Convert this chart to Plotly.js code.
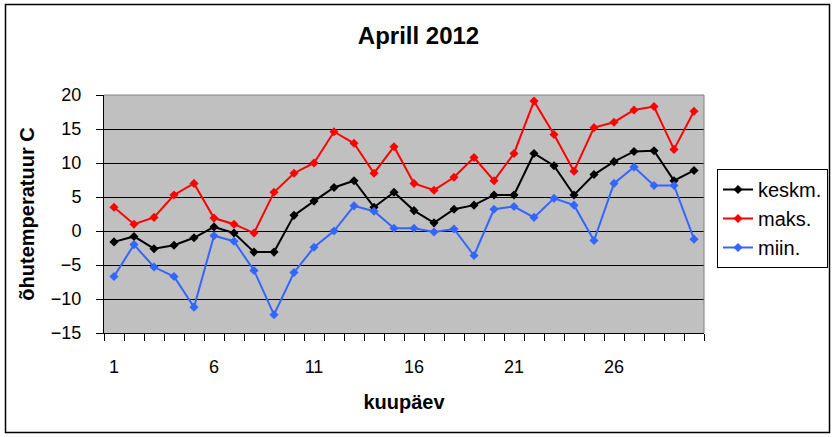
<!DOCTYPE html>
<html>
<head>
<meta charset="utf-8">
<script src="https://cdn.plot.ly/plotly-3.0.1.min.js"></script>
<style>
  html, body { margin: 0; padding: 0; background: #fff; }
  #chart { width: 835px; height: 437px; }
</style>
</head>
<body>
<div id="chart"></div>
<script>
// Days of April 2012
const days = [1,2,3,4,5,6,7,8,9,10,11,12,13,14,15,16,17,18,19,20,21,22,23,24,25,26,27,28,29,30];
// Daily mean temperature (keskm.)
const keskm = [-1.6,-0.8,-2.6,-2.1,-1.0,0.6,-0.3,-3.1,-3.1,2.3,4.4,6.4,7.4,3.5,5.7,3.0,1.2,3.2,3.8,5.3,5.3,11.4,9.6,5.3,8.3,10.2,11.7,11.8,7.4,8.9];
// Daily maximum (maks.)
const maks = [3.5,1.0,2.0,5.3,7.0,1.9,1.0,-0.3,5.7,8.5,10.0,14.6,12.9,8.5,12.4,7.0,6.0,7.9,10.8,7.4,11.4,19.1,14.2,8.8,15.2,16.0,17.8,18.3,12.0,17.6];
// Daily minimum (miin.)
const miin = [-6.7,-2.0,-5.3,-6.7,-11.2,-0.7,-1.5,-5.8,-12.3,-6.1,-2.4,0.0,3.7,2.9,0.4,0.4,-0.15,0.3,-3.6,3.2,3.6,2.0,4.8,3.8,-1.4,7.0,9.4,6.7,6.7,-1.2];

const seriesNames = ['keskm.', 'maks.', 'miin.'];
const xTickLabels = ['1','6','11','16','21','26'];
const xTickVals = [1,6,11,16,21,26];
const yTickVals = [-15,-10,-5,0,5,10,15,20];

const FONT = 'Liberation Sans, Arial, sans-serif';

function mk(y, name, color) {
  return {
    x: days, y: y, name: name, legendgroup: name, type: 'scatter', mode: 'lines+markers',
    line: {color: color, width: 2},
    marker: {symbol: 'diamond', size: 7, color: color}
  };
}

const data = [
  mk(keskm, seriesNames[0], '#000000'),
  mk(maks, seriesNames[1], '#FF0000'),
  mk(miin, seriesNames[2], '#3366FF')
];

// plot area pixel geometry
const L = 104, R = 704, T = 95, B = 333, W = 835, H = 437;
const pw = R - L, ph = B - T;
const px = v => (v - L) / pw;
const py = v => (B - v) / ph;

const layout = {
  width: W, height: H,
  margin: {l: L, r: W - R, t: T, b: H - B, autoexpand: false},
  paper_bgcolor: '#ffffff',
  plot_bgcolor: '#C0C0C0',
  font: {family: FONT, color: '#000', size: 18},
  title: {
    text: '<b>Aprill 2012</b>',
    font: {family: FONT, size: 24, color: '#000'},
    x: 418.5 / W, xref: 'container', xanchor: 'center',
    y: 1 - 36 / H, yref: 'container', yanchor: 'middle'
  },
  xaxis: {
    range: [0.5, 30.5],
    tickmode: 'array', tickvals: xTickVals, ticktext: xTickLabels,
    ticks: '', showgrid: false, zeroline: false,
    showline: true, linecolor: '#000', linewidth: 1,
    ticklabelstandoff: 17,
    tickfont: {family: FONT, size: 18, color: '#000'},
    minor: {tickmode: 'linear', tick0: 0.5, dtick: 1, ticks: 'outside', ticklen: 7, tickcolor: '#000', tickwidth: 1, showgrid: false},
    title: {text: '<b>kuupäev</b>', font: {family: FONT, size: 20, color: '#000'}, standoff: 19},
    fixedrange: true
  },
  yaxis: {
    range: [-15, 20],
    tickmode: 'array', tickvals: yTickVals,
    ticks: 'outside', ticklen: 7, tickcolor: '#000', tickwidth: 1,
    showgrid: true, gridcolor: '#000', gridwidth: 1,
    zeroline: true, zerolinecolor: '#000', zerolinewidth: 1,
    showline: true, linecolor: '#000', linewidth: 1,
    ticklabelstandoff: 11,
    tickfont: {family: FONT, size: 18, color: '#000'},
    title: {text: '<b>õhutemperatuur C</b>', font: {family: FONT, size: 20, color: '#000'}, standoff: 10},
    fixedrange: true
  },
  legend: {
    x: px(717), xanchor: 'left', y: py(169), yanchor: 'top',
    bgcolor: '#ffffff', bordercolor: '#000', borderwidth: 1,
    font: {family: FONT, size: 20, color: '#000'},
    traceorder: 'grouped', tracegroupgap: 0
  },
  shapes: [
    // plot area top/right border (grey)
    {type: 'line', xref: 'paper', yref: 'paper', x0: 0, x1: 1, y0: 1, y1: 1, line: {color: '#808080', width: 1}},
    {type: 'line', xref: 'paper', yref: 'paper', x0: 1, x1: 1, y0: 0, y1: 1, line: {color: '#808080', width: 1}},
    // outer chart border
    {type: 'rect', xref: 'paper', yref: 'paper', x0: px(5.5), x1: px(829.5), y0: py(432.5), y1: py(4.5), line: {color: '#000', width: 1.5}, fillcolor: 'rgba(0,0,0,0)', layer: 'above'}
  ],
  showlegend: true
};

Plotly.newPlot('chart', data, layout, {staticPlot: true, displayModeBar: false});
</script>
</body>
</html>
